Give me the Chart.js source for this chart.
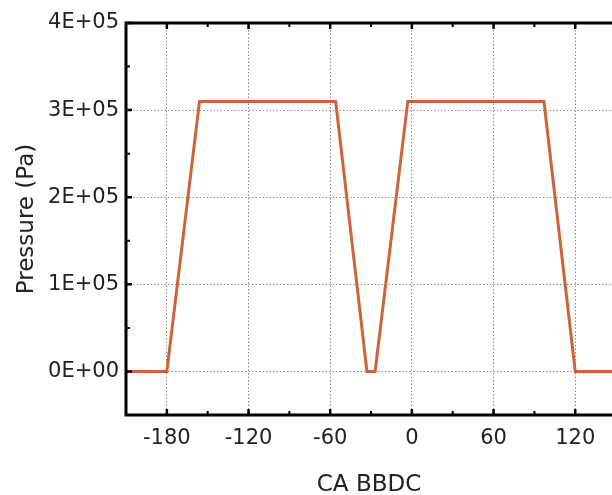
<!DOCTYPE html>
<html>
<head>
<meta charset="utf-8">
<script src="https://cdn.jsdelivr.net/npm/chart.js@4"></script>
<style>
  html, body { margin: 0; padding: 0; background: #fff; }
  #wrap { width: 612px; height: 495px; }
</style>
</head>
<body>
<div id="wrap"><canvas id="chart" width="612" height="495"></canvas></div>
<script>
// crank angle (deg) and pressure (Pa)
const angles = [-210, -180, -156, -56, -33, -27, -3, 97, 120, 150];
const pressures = [0, 0, 310000, 310000, 0, 0, 310000, 310000, 0, 0];

const xTicks = [-180, -120, -60, 0, 60, 120];
const xMinor = [-150, -90, -30, 30, 90];
const yTicks = [0, 100000, 200000, 300000, 400000];
const yMinor = [50000, 150000, 250000, 350000];

const fontFamily = '"DejaVu Sans", sans-serif';

const frame = {
    id: 'frame',
    afterDraw(chart) {
        const { ctx, chartArea: a, scales } = chart;
        ctx.save();
        ctx.strokeStyle = '#000';
        ctx.lineWidth = 3;
        ctx.beginPath();
        ctx.moveTo(a.right + 2, a.top);
        ctx.lineTo(a.left, a.top);
        ctx.lineTo(a.left, a.bottom);
        ctx.lineTo(a.right + 2, a.bottom);
        ctx.stroke();

        ctx.lineWidth = 2.5;
        ctx.beginPath();
        xTicks.forEach(v => {
            const px = scales.x.getPixelForValue(v);
            ctx.moveTo(px, a.bottom); ctx.lineTo(px, a.bottom - 6);
            ctx.moveTo(px, a.top); ctx.lineTo(px, a.top + 6);
        });
        yTicks.forEach(v => {
            const py = scales.y.getPixelForValue(v);
            ctx.moveTo(a.left, py); ctx.lineTo(a.left + 6, py);
        });
        ctx.stroke();

        ctx.lineWidth = 2;
        ctx.beginPath();
        xMinor.forEach(v => {
            const px = scales.x.getPixelForValue(v);
            ctx.moveTo(px, a.bottom); ctx.lineTo(px, a.bottom - 4);
            ctx.moveTo(px, a.top); ctx.lineTo(px, a.top + 4);
        });
        yMinor.forEach(v => {
            const py = scales.y.getPixelForValue(v);
            ctx.moveTo(a.left, py); ctx.lineTo(a.left + 4, py);
        });
        ctx.stroke();
        ctx.restore();
    }
};

new Chart(document.getElementById('chart'), {
    type: 'line',
    data: {
        datasets: [{
            data: angles.map((a, i) => ({ x: a, y: pressures[i] })),
            borderColor: '#cc643a',
            borderWidth: 3,
            pointRadius: 0,
            tension: 0,
            fill: false
        }]
    },
    options: {
        responsive: false,
        animation: false,
        layout: { padding: { top: 23, right: 0, left: 0, bottom: 0 } },
        plugins: {
            legend: { display: false },
            tooltip: { enabled: false }
        },
        scales: {
            x: {
                type: 'linear',
                min: -210,
                max: 147,
                afterBuildTicks: scale => { scale.ticks = xTicks.map(v => ({ value: v })); },
                afterFit: scale => { scale.height = 80; },
                grid: { color: '#8a8a8a', lineWidth: 1, drawTicks: false },
                border: { display: false, dash: [1.5, 2] },
                ticks: {
                    color: '#222',
                    padding: 11,
                    maxRotation: 0,
                    font: { family: fontFamily, size: 21 },
                    callback: v => String(v)
                },
                title: {
                    display: true,
                    text: 'CA BBDC',
                    color: '#222',
                    padding: { top: 0, bottom: -4 },
                    font: { family: fontFamily, size: 23 }
                }
            },
            y: {
                min: -50000,
                max: 400000,
                afterBuildTicks: scale => { scale.ticks = yTicks.map(v => ({ value: v })); },
                afterFit: scale => { scale.width = 126; },
                grid: { color: '#8a8a8a', lineWidth: 1, drawTicks: false },
                border: { display: false, dash: [1.5, 2] },
                ticks: {
                    color: '#222',
                    padding: 7,
                    font: { family: fontFamily, size: 21 },
                    callback: v => v === 0 ? '0E+00' : (v / 100000).toFixed(0) + 'E+05'
                },
                title: {
                    display: true,
                    text: 'Pressure (Pa)',
                    color: '#222',
                    padding: { top: 13, bottom: 0 },
                    font: { family: fontFamily, size: 23 }
                }
            }
        }
    },
    plugins: [frame]
});
</script>
</body>
</html>
